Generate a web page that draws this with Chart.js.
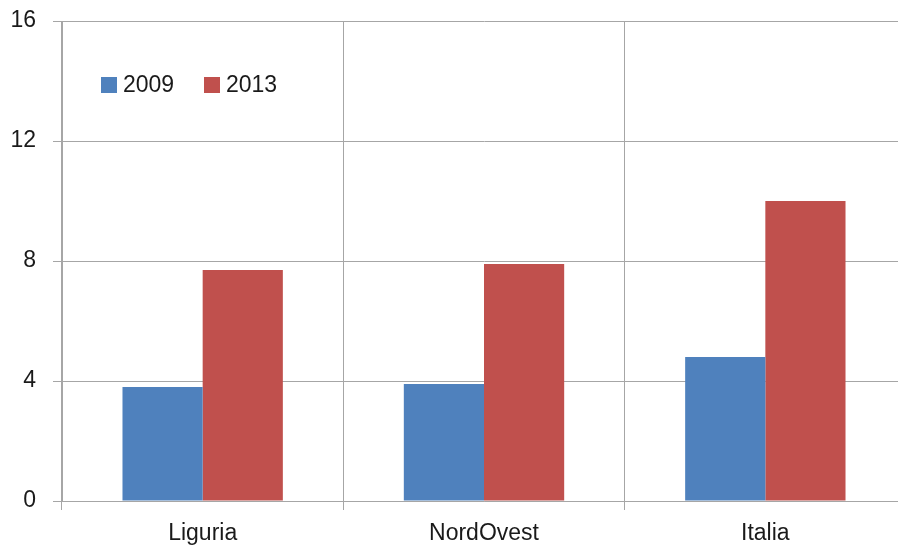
<!DOCTYPE html>
<html><head><meta charset="utf-8">
<script src="https://cdn.jsdelivr.net/npm/chart.js@4"></script>
<style>html,body{margin:0;padding:0;overflow:hidden;background:#fff}
#wrap{position:absolute;left:0;top:0;width:906px;height:549px}</style></head>
<body><div id="wrap"><canvas id="c"></canvas></div>
<script>
const categories = ['Liguria', 'NordOvest', 'Italia'];
const seriesLabels = ['2009', '2013'];
const values2009 = [3.8, 3.9, 4.8];
const values2013 = [7.7, 7.9, 10.0];
const yTicks = [0, 4, 8, 12, 16];

const FONT = '"Liberation Sans", Arial, sans-serif';
const GRID = '#a6a6a6';

const inlineLegend = {
  id: 'inlineLegend',
  afterDraw(chart) {
    const ctx = chart.ctx;
    const positions = [{x: 101, y: 77}, {x: 204, y: 77}];
    ctx.save();
    ctx.font = '23px ' + FONT;
    ctx.textBaseline = 'middle';
    ctx.textAlign = 'left';
    chart.data.datasets.forEach((ds, i) => {
      const p = positions[i];
      ctx.fillStyle = ds.backgroundColor;
      ctx.fillRect(p.x, p.y, 16, 16);
      ctx.fillStyle = '#1a1a1a';
      ctx.fillText(ds.label, p.x + 22, p.y + 8.5);
    });
    ctx.restore();
  }
};

new Chart(document.getElementById('c'), {
  type: 'bar',
  data: {
    labels: categories,
    datasets: [
      {label: seriesLabels[0], data: values2009, backgroundColor: '#4f81bd', borderWidth: 0},
      {label: seriesLabels[1], data: values2013, backgroundColor: '#c0504d', borderWidth: 0}
    ]
  },
  options: {
    responsive: true,
    maintainAspectRatio: false,
    animation: false,
    devicePixelRatio: 1,
    layout: {padding: {top: 21, right: 0, bottom: 0, left: 0}},
    plugins: {legend: {display: false}, tooltip: {enabled: false}},
    datasets: {bar: {barPercentage: 1, categoryPercentage: 0.57}},
    scales: {
      x: {
        offset: true,
        grid: {offset: true, color: GRID, lineWidth: 1, tickLength: 9, drawTicks: true},
        border: {color: GRID, width: 1},
        ticks: {color: '#1a1a1a', font: {family: FONT, size: 23}, padding: 10},
        afterFit: s => { s.height = 48; s.paddingLeft = 0; s.paddingRight = 0; }
      },
      y: {
        min: 0, max: 16,
        afterBuildTicks: s => { s.ticks = yTicks.map(v => ({value: v})); },
        grid: {color: GRID, lineWidth: 1, tickLength: 9, drawTicks: true},
        border: {color: GRID, width: 1},
        ticks: {color: '#1a1a1a', font: {family: FONT, size: 23}, padding: 17},
        afterFit: s => { s.width = 62; s.paddingTop = 0; s.paddingBottom = 0; }
      }
    }
  },
  plugins: [inlineLegend]
});
</script></body></html>
